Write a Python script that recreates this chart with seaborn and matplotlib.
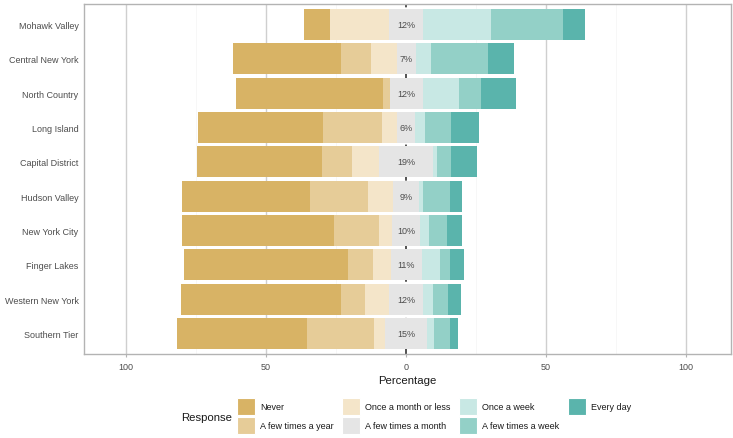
import matplotlib
matplotlib.use("Agg")
import matplotlib.pyplot as plt
import seaborn as sns
import pandas as pd
import numpy as np
from matplotlib.patches import Patch

regions = ["Mohawk Valley", "Central New York", "North Country", "Long Island",
           "Capital District", "Hudson Valley", "New York City", "Finger Lakes",
           "Western New York", "Southern Tier"]
responses = ["Never", "A few times a year", "Once a month or less",
             "A few times a month", "Once a week", "A few times a week", "Every day"]

never        = [9.2, 38.4, 52.6, 44.7, 44.8, 45.7, 54.5, 58.6, 57.3, 46.6]
few_year     = [0.0, 10.9, 2.4, 21.0, 10.4, 20.7, 16.0, 9.0, 8.6, 23.9]
once_month   = [21.2, 9.0, 0.0, 5.4, 9.8, 9.1, 4.7, 6.3, 8.5, 3.8]
few_month    = [12.0, 6.8, 11.8, 6.3, 19.3, 9.2, 9.9, 11.1, 12.0, 15.2]
once_week    = [24.4, 5.6, 13.0, 3.5, 1.3, 1.4, 3.2, 6.7, 3.5, 2.2]
few_week     = [25.6, 20.1, 8.0, 9.4, 5.1, 9.7, 6.3, 3.5, 5.6, 6.0]
every_day    = [7.9, 9.5, 12.2, 9.8, 9.4, 4.4, 5.5, 4.8, 4.6, 2.6]

colors = ["#D8B365", "#E6CC98", "#F4E5C9", "#E5E5E5", "#C8E8E4", "#93D0C7", "#5AB4AC"]

df = pd.DataFrame({"region": regions, "never": never, "few_year": few_year,
                   "once_month": once_month, "few_month": few_month,
                   "once_week": once_week, "few_week": few_week, "every_day": every_day})
half = df["few_month"] / 2
# cumulative extents (outermost first so inner layers overlay)
neg_layers = [
    (-(df["never"] + df["few_year"] + df["once_month"] + half), colors[0]),
    (-(df["few_year"] + df["once_month"] + half), colors[1]),
    (-(df["once_month"] + half), colors[2]),
    (-half, colors[3]),
]
pos_layers = [
    (half + df["once_week"] + df["few_week"] + df["every_day"], colors[6]),
    (half + df["once_week"] + df["few_week"], colors[5]),
    (half + df["once_week"], colors[4]),
    (half, colors[3]),
]

sns.set_style("white")
plt.rcParams["font.family"] = ["Liberation Sans", "DejaVu Sans"]

fig = plt.figure(figsize=(7.33, 4.39), dpi=100)
ax = fig.add_axes([84 / 733, 1 - 355 / 439, (731 - 84) / 733, (355 - 5) / 439])

# grid
for xv in [-75, -25, 25, 75]:
    ax.axvline(xv, color="#f4f4f4", lw=0.5, zorder=0)
for xv in [-100, -50, 50, 100]:
    ax.axvline(xv, color="#cfcfcf", lw=1.0, zorder=0)
ax.axvline(0, color="#444444", lw=1.3, ls=(0, (4, 4)), zorder=0.5)

for vals, col in neg_layers + pos_layers:
    sns.barplot(x=vals.values, y=df["region"], orient="h", color=col, width=0.9,
                errorbar=None, linewidth=0, saturation=1, ax=ax, zorder=2)

for i, v in enumerate(few_month):
    ax.text(0, i, f"{round(v)}%", ha="center", va="center", fontsize=6.5,
            color="#4d4d4d", zorder=3)

ax.set_xlim(-115, 116)
ax.set_ylim(9.6, -0.6)
ax.set_xticks([-100, -50, 0, 50, 100])
ax.set_xticklabels(["100", "50", "0", "50", "100"])
ax.set_ylabel("")
ax.set_xlabel("Percentage", fontsize=8.2, color="#1a1a1a", labelpad=3)
ax.tick_params(axis="x", length=2, color="#b3b3b3", labelsize=6.5,
               labelcolor="#4d4d4d", pad=4, bottom=True)
ax.tick_params(axis="y", length=0, labelsize=6.5, labelcolor="#4d4d4d", pad=4)
for s in ax.spines.values():
    s.set_visible(True)
    s.set_color("#b3b3b3")
    s.set_linewidth(1.0)

handles = [Patch(facecolor=c, edgecolor="white", linewidth=0.8, label=r)
           for c, r in zip(colors, responses)]
fig.legend(handles=handles, ncol=4, loc="upper left",
           bbox_to_anchor=(237 / 733, 1 - 399 / 439), frameon=False,
           fontsize=6.5, handlelength=1.95, handleheight=2.5,
           handletextpad=0.6, columnspacing=0.95, labelspacing=0.2,
           borderpad=0, borderaxespad=0, labelcolor="#1a1a1a")
fig.text(181 / 733, 1 - 418 / 439, "Response", fontsize=8.2, color="#1a1a1a",
         ha="left", va="center")

fig.savefig("out.png", dpi=100)
